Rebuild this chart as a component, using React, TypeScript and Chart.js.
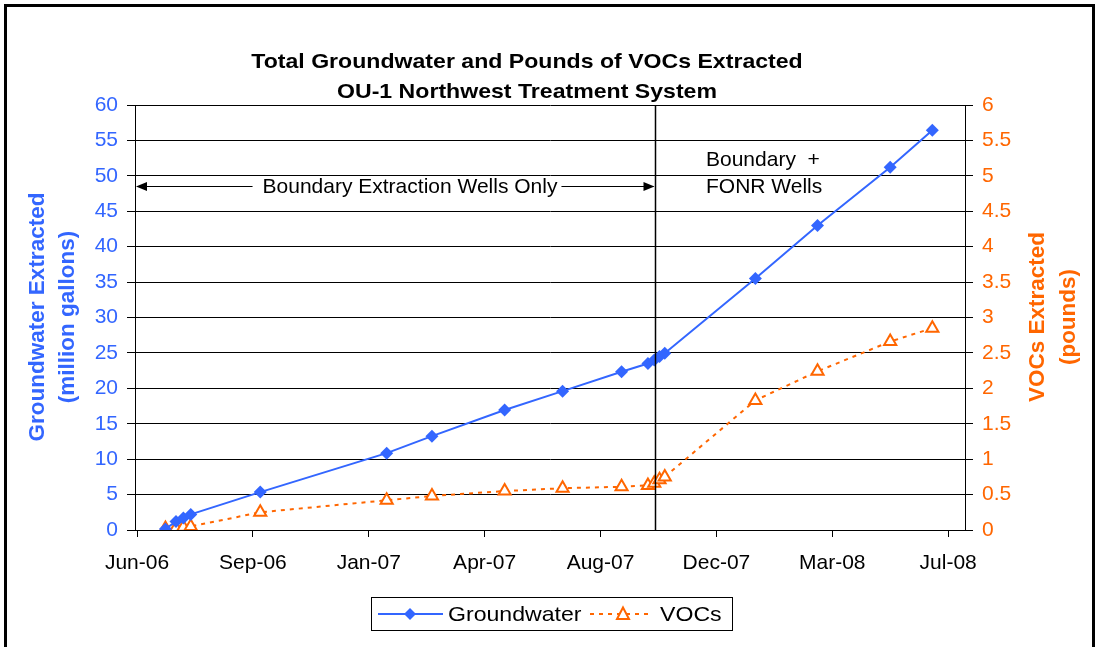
import React, { useEffect, useRef } from "react";
import { Chart, registerables } from "chart.js";

Chart.register(...registerables);

// ---- data ----
const sampleDates = [
  "2006-06-28", "2006-07-08", "2006-07-15", "2006-07-22", "2006-09-26",
  "2007-01-24", "2007-03-08", "2007-05-16", "2007-07-10", "2007-09-04",
  "2007-09-29", "2007-10-05", "2007-10-10", "2007-10-15", "2008-01-09",
  "2008-03-08", "2008-05-16", "2008-06-25",
];
const groundwater = [
  0.15, 1.2, 1.7, 2.2, 5.35, 10.85, 13.25, 16.95, 19.6, 22.35,
  23.5, 24.0, 24.5, 24.95, 35.5, 43.0, 51.2, 56.45,
];
const vocs = [
  0.02, 0.03, 0.04, 0.05, 0.25, 0.42, 0.48, 0.55, 0.59, 0.61,
  0.63, 0.66, 0.71, 0.75, 1.83, 2.24, 2.66, 2.85,
];
const xTickDays = [0, 110, 220, 330, 440, 550, 660, 770];
const phaseChangeDate = "2007-10-06";
const titleLines = ["Total Groundwater and Pounds of VOCs Extracted", "OU-1 Northwest Treatment System"];
const leftTitle = ["Groundwater Extracted", "(million gallons)"];
const rightTitle = ["VOCs Extracted", "(pounds)"];
const phase1Label = "Boundary Extraction Wells Only";
const phase2Label = ["Boundary  +", "FONR Wells"];
const seriesNames = ["Groundwater", "VOCs"];
const MONTHS = ["Jan", "Feb", "Mar", "Apr", "May", "Jun", "Jul", "Aug", "Sep", "Oct", "Nov", "Dec"];

const BASE = Date.UTC(2006, 5, 1);
const BLUE = "#3366FF";
const ORANGE = "#FF6600";
const FAMILY = "'Liberation Sans', Arial, sans-serif";

function dayOf(s: string): number {
  const [y, m, d] = s.split("-").map(Number);
  return (Date.UTC(y, m - 1, d) - BASE) / 86400000;
}
function labelFor(v: number): string {
  const d = new Date(BASE + v * 86400000);
  return MONTHS[d.getUTCMonth()] + "-" + String(d.getUTCFullYear() % 100).padStart(2, "0");
}

function text(ctx: CanvasRenderingContext2D, s: string, x: number, y: number, font: string, color: string,
  align: CanvasTextAlign = "center", sx = 1, rot = 0) {
  ctx.save();
  ctx.translate(x, y);
  if (rot) ctx.rotate(rot);
  ctx.scale(sx, 1);
  ctx.font = font;
  ctx.fillStyle = color;
  ctx.textAlign = align;
  ctx.textBaseline = "middle";
  ctx.fillText(s, 0, 0);
  ctx.restore();
}

function arrowHead(ctx: CanvasRenderingContext2D, x: number, y: number, dir: number) {
  ctx.beginPath();
  ctx.moveTo(x, y);
  ctx.lineTo(x - dir * 11, y - 4.5);
  ctx.lineTo(x - dir * 11, y + 4.5);
  ctx.closePath();
  ctx.fill();
}

const decorPlugin = {
  id: "decor",
  afterDatasetsDraw(chart: any) {
    const ctx: CanvasRenderingContext2D = chart.ctx;
    const { left, top, bottom } = chart.chartArea;
    const xs = chart.scales.x;
    const vx = Math.round(xs.getPixelForValue(dayOf(phaseChangeDate))) + 0.5;
    ctx.save();
    ctx.strokeStyle = "#000";
    ctx.lineWidth = 1.5;
    ctx.beginPath();
    ctx.moveTo(vx, top);
    ctx.lineTo(vx, bottom);
    ctx.stroke();

    // arrow annotation
    const ay = 186.5;
    const tx = 410;
    const font = `21px ${FAMILY}`;
    ctx.font = font;
    const tw = ctx.measureText(phase1Label).width;
    ctx.lineWidth = 1;
    ctx.fillStyle = "#000";
    ctx.beginPath();
    ctx.moveTo(left + 2, ay);
    ctx.lineTo(tx - tw / 2 - 10, ay);
    ctx.moveTo(tx + tw / 2 + 4, ay);
    ctx.lineTo(vx - 2, ay);
    ctx.stroke();
    arrowHead(ctx, left + 1, ay, -1);
    arrowHead(ctx, vx - 1, ay, 1);
    text(ctx, phase1Label, tx, ay + 1, font, "#000", "center", 1);
    text(ctx, phase2Label[0], 706, 160, font, "#000", "left", 1);
    text(ctx, phase2Label[1], 706, 187, font, "#000", "left", 1);
    ctx.restore();
  },
  afterDraw(chart: any) {
    const ctx: CanvasRenderingContext2D = chart.ctx;
    ctx.save();
    const tf = `bold 21px ${FAMILY}`;
    text(ctx, titleLines[0], 527, 62, tf, "#000", "center", 1.1);
    text(ctx, titleLines[1], 527, 92, tf, "#000", "center", 1.1);

    const af = `bold 22.5px ${FAMILY}`;
    text(ctx, leftTitle[0], 38, 317, af, BLUE, "center", 1, -Math.PI / 2);
    text(ctx, leftTitle[1], 68, 317, af, BLUE, "center", 1, -Math.PI / 2);
    text(ctx, rightTitle[0], 1038, 317, af, ORANGE, "center", 1, -Math.PI / 2);
    text(ctx, rightTitle[1], 1069, 317, af, ORANGE, "center", 1, -Math.PI / 2);

    // legend
    const lx = 371.5, ly = 597.5, lw = 361, lh = 33;
    ctx.strokeStyle = "#000";
    ctx.lineWidth = 1;
    ctx.strokeRect(lx, ly, lw, lh);
    const my = 614;
    ctx.strokeStyle = BLUE;
    ctx.lineWidth = 2;
    ctx.beginPath();
    ctx.moveTo(378, my);
    ctx.lineTo(443, my);
    ctx.stroke();
    ctx.fillStyle = BLUE;
    ctx.beginPath();
    ctx.moveTo(410, my - 6);
    ctx.lineTo(416, my);
    ctx.lineTo(410, my + 6);
    ctx.lineTo(404, my);
    ctx.closePath();
    ctx.fill();
    const lf = `21px ${FAMILY}`;
    text(ctx, seriesNames[0], 448, my + 1, lf, "#000", "left", 1.1);
    ctx.strokeStyle = ORANGE;
    ctx.lineWidth = 2;
    ctx.setLineDash([4, 5]);
    ctx.beginPath();
    ctx.moveTo(590, my);
    ctx.lineTo(652, my);
    ctx.stroke();
    ctx.setLineDash([]);
    ctx.fillStyle = "#fff";
    ctx.beginPath();
    ctx.moveTo(623, my - 6.5);
    ctx.lineTo(629, my + 5);
    ctx.lineTo(617, my + 5);
    ctx.closePath();
    ctx.fill();
    ctx.stroke();
    text(ctx, seriesNames[1], 660, my + 1, lf, "#000", "left", 1.1);

    // outer frame
    ctx.strokeStyle = "#000";
    ctx.lineWidth = 3;
    ctx.strokeRect(5.5, 5.5, 1088, 700);
    ctx.restore();
  },
};

export default function App() {
  const ref = useRef<HTMLCanvasElement | null>(null);
  useEffect(() => {
    document.body.style.margin = "0";
    const canvas = ref.current;
    if (!canvas) return;
    const tickFont = { size: 21, family: FAMILY };
    const chart = new Chart(canvas, {
      type: "line",
      data: {
        datasets: [
          {
            label: seriesNames[0],
            data: sampleDates.map((s, i) => ({ x: dayOf(s), y: groundwater[i] })),
            yAxisID: "y",
            borderColor: BLUE,
            backgroundColor: BLUE,
            borderWidth: 2,
            pointStyle: "rectRot",
            pointRadius: 6.5,
            pointBorderWidth: 0,
            pointBackgroundColor: BLUE,
            tension: 0,
          },
          {
            label: seriesNames[1],
            data: sampleDates.map((s, i) => ({ x: dayOf(s), y: vocs[i] })),
            yAxisID: "y1",
            borderColor: ORANGE,
            backgroundColor: "#fff",
            borderWidth: 2,
            borderDash: [4, 5],
            pointStyle: "triangle",
            pointRadius: 7,
            pointBorderWidth: 2,
            pointBackgroundColor: "#fff",
            pointBorderColor: ORANGE,
            tension: 0,
          },
        ],
      },
      options: {
        responsive: false,
        animation: false,
        events: [],
        layout: { padding: { top: 105, left: 0, right: 0, bottom: 0 } },
        plugins: { legend: { display: false }, title: { display: false }, tooltip: { enabled: false } },
        scales: {
          x: {
            type: "linear",
            min: -1.9,
            max: 786,
            afterBuildTicks: (s: any) => {
              s.ticks = xTickDays.map((v) => ({ value: v }));
            },
            afterFit: (s: any) => {
              s.height = 117;
            },
            ticks: {
              callback: (v: any) => labelFor(Number(v)),
              font: tickFont,
              color: "#000",
              padding: 14,
              maxRotation: 0,
              autoSkip: false,
            },
            grid: { drawOnChartArea: false, tickLength: 7, color: "#000" },
            border: { color: "#000", width: 1 },
          },
          y: {
            position: "left",
            min: 0,
            max: 60,
            afterFit: (s: any) => {
              s.width = 135;
            },
            ticks: { stepSize: 5, color: BLUE, font: tickFont, padding: 9, callback: (v: any) => String(Number(v)) },
            grid: { color: "#000", tickLength: 8, lineWidth: 1 },
            border: { color: "#000", width: 1 },
          },
          y1: {
            position: "right",
            min: 0,
            max: 6,
            afterFit: (s: any) => {
              s.width = 132;
            },
            ticks: { stepSize: 0.5, color: ORANGE, font: tickFont, padding: 9, callback: (v: any) => String(Number(v)) },
            grid: { drawOnChartArea: false, color: "#000", tickLength: 8 },
            border: { color: "#000", width: 1 },
          },
        },
      },
      plugins: [decorPlugin],
    } as any);
    return () => chart.destroy();
  }, []);
  return (
    <div style={{ width: 1097, height: 647, background: "#fff" }}>
      <canvas ref={ref} width={1097} height={647} style={{ display: "block" }} />
    </div>
  );
}
